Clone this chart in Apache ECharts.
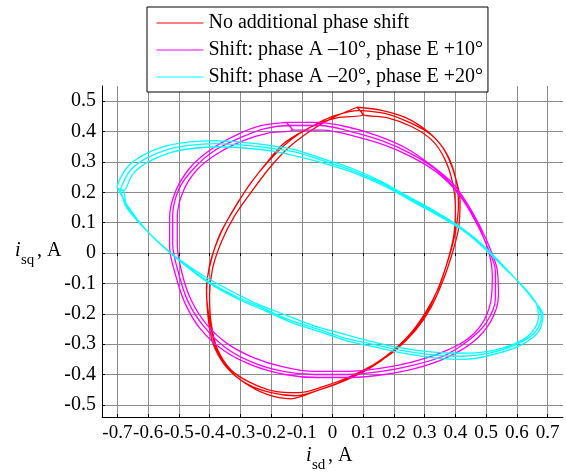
<!DOCTYPE html>
<html>
<head>
<meta charset="utf-8">
<script src="https://cdn.jsdelivr.net/npm/echarts@6/dist/echarts.min.js"></script>
<style>
  html, body { margin: 0; padding: 0; background: #fff; }
  #chart { width: 566px; height: 473px; }
</style>
</head>
<body>
<div id="chart"></div>
<script>
// legend names
const seriesNames = [
  'No additional phase shift',
  'Shift: phase A \u201310\u00b0, phase E +10\u00b0',
  'Shift: phase A \u201320\u00b0, phase E +20\u00b0'
]
const xTicks = [-0.7, -0.6, -0.5, -0.4, -0.3, -0.2, -0.1, 0, 0.1, 0.2, 0.3, 0.4, 0.5, 0.6, 0.7]
const yTicks = [-0.5, -0.4, -0.3, -0.2, -0.1, 0, 0.1, 0.2, 0.3, 0.4, 0.5]

// i_sd, i_sq pairs (several laps per trace)
const redLap1 = [[0.09,0.47],[0.17,0.46],[0.25,0.43],[0.32,0.39],[0.37,0.33],[0.40,0.25],[0.41,0.16],[0.40,0.07],[0.38,-0.01],[0.35,-0.10],[0.31,-0.19],[0.26,-0.26],[0.19,-0.33],[0.12,-0.38],[0.04,-0.42],[-0.04,-0.45],[-0.12,-0.47],[-0.20,-0.46],[-0.28,-0.43],[-0.34,-0.38],[-0.38,-0.31],[-0.40,-0.22],[-0.41,-0.13],[-0.40,-0.04],[-0.37,0.05],[-0.33,0.13],[-0.28,0.21],[-0.22,0.29],[-0.16,0.36],[-0.08,0.41],[0.00,0.45],[0.09,0.47]]
const redLap2 = [[0.10,0.455],[0.18,0.445],[0.26,0.415],[0.325,0.37],[0.365,0.31],[0.39,0.235],[0.40,0.15],[0.395,0.06],[0.375,-0.025],[0.345,-0.115],[0.30,-0.20],[0.245,-0.275],[0.18,-0.335],[0.105,-0.385],[0.025,-0.425],[-0.055,-0.455],[-0.135,-0.48],[-0.215,-0.465],[-0.29,-0.425],[-0.35,-0.37],[-0.39,-0.295],[-0.405,-0.21],[-0.41,-0.115],[-0.395,-0.025],[-0.365,0.065],[-0.32,0.145],[-0.27,0.225],[-0.21,0.30],[-0.145,0.365],[-0.07,0.415],[0.015,0.445],[0.10,0.455]]
const redLap3 = [[0.08,0.48],[0.16,0.47],[0.24,0.445],[0.31,0.40],[0.36,0.345],[0.395,0.265],[0.415,0.17],[0.41,0.08],[0.39,0.0],[0.36,-0.09],[0.32,-0.18],[0.27,-0.255],[0.205,-0.32],[0.13,-0.37],[0.05,-0.41],[-0.03,-0.44],[-0.11,-0.46],[-0.19,-0.455],[-0.27,-0.425],[-0.33,-0.385],[-0.375,-0.315],[-0.395,-0.23],[-0.40,-0.14],[-0.39,-0.05],[-0.36,0.04],[-0.32,0.12],[-0.265,0.20],[-0.205,0.28],[-0.145,0.345],[-0.075,0.40],[0.0,0.445],[0.08,0.48]]

const magentaLap1 = [[-0.14,0.42],[-0.04,0.42],[0.06,0.40],[0.16,0.37],[0.25,0.33],[0.33,0.28],[0.40,0.21],[0.46,0.12],[0.50,0.03],[0.53,-0.06],[0.53,-0.15],[0.50,-0.23],[0.44,-0.29],[0.36,-0.34],[0.26,-0.37],[0.16,-0.39],[0.05,-0.40],[-0.06,-0.40],[-0.16,-0.39],[-0.26,-0.36],[-0.35,-0.31],[-0.42,-0.24],[-0.47,-0.16],[-0.50,-0.07],[-0.52,0.03],[-0.52,0.12],[-0.50,0.21],[-0.45,0.28],[-0.38,0.34],[-0.30,0.38],[-0.22,0.41],[-0.14,0.42]]
const magentaLap2 = [[-0.13,0.405],[-0.03,0.405],[0.07,0.385],[0.17,0.355],[0.26,0.315],[0.34,0.265],[0.41,0.195],[0.465,0.105],[0.505,0.015],[0.52,-0.075],[0.515,-0.16],[0.485,-0.235],[0.43,-0.29],[0.35,-0.33],[0.255,-0.36],[0.155,-0.38],[0.05,-0.39],[-0.06,-0.39],[-0.16,-0.375],[-0.255,-0.345],[-0.34,-0.30],[-0.41,-0.235],[-0.46,-0.155],[-0.49,-0.065],[-0.505,0.03],[-0.505,0.12],[-0.485,0.205],[-0.44,0.275],[-0.37,0.33],[-0.29,0.37],[-0.21,0.395],[-0.13,0.405]]
const magentaLap3 = [[-0.15,0.43],[-0.05,0.43],[0.05,0.415],[0.15,0.385],[0.24,0.345],[0.32,0.29],[0.395,0.225],[0.455,0.135],[0.50,0.045],[0.535,-0.05],[0.54,-0.14],[0.515,-0.225],[0.455,-0.295],[0.37,-0.345],[0.27,-0.38],[0.17,-0.40],[0.06,-0.41],[-0.05,-0.41],[-0.155,-0.40],[-0.26,-0.37],[-0.355,-0.32],[-0.43,-0.25],[-0.48,-0.165],[-0.51,-0.075],[-0.53,0.02],[-0.53,0.115],[-0.51,0.205],[-0.46,0.285],[-0.39,0.345],[-0.31,0.39],[-0.23,0.42],[-0.15,0.43]]

const cyanLap1 = [[-0.69,0.21],[-0.66,0.27],[-0.61,0.31],[-0.54,0.34],[-0.46,0.355],[-0.38,0.36],[-0.29,0.355],[-0.20,0.345],[-0.11,0.33],[-0.02,0.30],[0.07,0.27],[0.16,0.23],[0.25,0.18],[0.34,0.13],[0.42,0.08],[0.49,0.02],[0.55,-0.04],[0.61,-0.10],[0.66,-0.16],[0.68,-0.21],[0.66,-0.26],[0.60,-0.30],[0.51,-0.33],[0.42,-0.34],[0.32,-0.335],[0.22,-0.32],[0.13,-0.30],[0.04,-0.28],[-0.05,-0.25],[-0.14,-0.22],[-0.23,-0.18],[-0.32,-0.14],[-0.41,-0.09],[-0.49,-0.03],[-0.56,0.03],[-0.62,0.09],[-0.67,0.15],[-0.69,0.21]]
const cyanLap2 = [[-0.68,0.205],[-0.65,0.26],[-0.60,0.30],[-0.53,0.33],[-0.45,0.345],[-0.37,0.35],[-0.28,0.345],[-0.19,0.335],[-0.10,0.315],[-0.01,0.29],[0.08,0.26],[0.17,0.22],[0.26,0.17],[0.35,0.12],[0.43,0.07],[0.50,0.01],[0.56,-0.05],[0.62,-0.11],[0.665,-0.17],[0.67,-0.215],[0.645,-0.265],[0.59,-0.30],[0.50,-0.325],[0.41,-0.33],[0.31,-0.325],[0.21,-0.31],[0.12,-0.29],[0.03,-0.265],[-0.06,-0.24],[-0.15,-0.205],[-0.24,-0.17],[-0.33,-0.125],[-0.42,-0.075],[-0.50,-0.02],[-0.57,0.04],[-0.63,0.10],[-0.67,0.155],[-0.68,0.205]]
const cyanLap3 = [[-0.70,0.215],[-0.67,0.28],[-0.62,0.32],[-0.55,0.35],[-0.47,0.365],[-0.39,0.37],[-0.30,0.365],[-0.21,0.355],[-0.12,0.34],[-0.03,0.31],[0.06,0.28],[0.15,0.24],[0.24,0.19],[0.33,0.14],[0.41,0.09],[0.48,0.035],[0.545,-0.03],[0.60,-0.09],[0.65,-0.15],[0.685,-0.205],[0.67,-0.26],[0.61,-0.305],[0.52,-0.335],[0.43,-0.35],[0.33,-0.345],[0.23,-0.33],[0.14,-0.31],[0.05,-0.29],[-0.04,-0.26],[-0.13,-0.23],[-0.22,-0.19],[-0.31,-0.15],[-0.40,-0.10],[-0.48,-0.04],[-0.55,0.02],[-0.61,0.08],[-0.66,0.145],[-0.70,0.215]]

const colors = ['#ff0000', '#ff00ff', '#00ffff']
const laps = [
  [redLap1, redLap2, redLap3],
  [magentaLap1, magentaLap2, magentaLap3],
  [cyanLap1, cyanLap2, cyanLap3]
]

const font = 'Liberation Serif'

const chart = echarts.init(document.getElementById('chart'))

const option = {
  animation: false,
  backgroundColor: '#fff',
  grid: { left: 102, right: 3, top: 86, bottom: 56 },
  legend: {
    orient: 'vertical',
    left: 147,
    top: 7,
    padding: [6, 5, 5, 9],
    itemGap: 7,
    itemWidth: 47,
    itemHeight: 20,
    backgroundColor: '#fff',
    borderColor: '#000',
    borderWidth: 1,
    z: 10,
    itemStyle: { opacity: 0 },   // no marker, only the line
    lineStyle: { width: 1 },
    textStyle: { fontFamily: font, fontSize: 20, color: '#000', lineHeight: 20 },
    data: seriesNames
  },
  xAxis: [
    {
      type: 'value',
      min: -0.75,
      max: 0.75,
      axisLine: { show: true, onZero: false, lineStyle: { color: '#000', width: 1 } },
      axisTick: { show: true, inside: true, length: 3, customValues: xTicks, lineStyle: { color: '#000' } },
      axisLabel: {
        customValues: xTicks, margin: 7, color: '#000', fontFamily: font, fontSize: 19,
        width: 28, overflow: 'none',
        showMinLabel: true, showMaxLabel: true, hideOverlap: false
      },
      splitLine: { show: true, lineStyle: { color: '#8c8c8c', width: 1 } }
    },
    {
      type: 'value',
      position: 'top',
      min: -0.75,
      max: 0.75,
      axisLine: { show: false },
      axisTick: { show: true, inside: true, length: 3, customValues: xTicks, lineStyle: { color: '#000' } },
      axisLabel: { show: false },
      splitLine: { show: false }
    }
  ],
  yAxis: [
    {
      type: 'value',
      min: -0.54,
      max: 0.55,
      axisLine: { show: true, onZero: false, lineStyle: { color: '#000', width: 1 } },
      axisTick: { show: true, inside: true, length: 3, customValues: yTicks, lineStyle: { color: '#000' } },
      axisLabel: {
        customValues: yTicks, margin: 6, color: '#000', fontFamily: font, fontSize: 20,
        showMinLabel: true, showMaxLabel: true, hideOverlap: false
      },
      splitLine: { show: true, lineStyle: { color: '#8c8c8c', width: 1 } }
    }
  ],
  graphic: [
    // y axis title: i_sq, A
    { type: 'text', left: 15, top: 241, style: { text: 'i', fontFamily: font, fontSize: 20, fontStyle: 'italic', fill: '#000' } },
    { type: 'text', left: 21, top: 253, style: { text: 'sq', fontFamily: font, fontSize: 15, fill: '#000' } },
    { type: 'text', left: 37, top: 241, style: { text: ', A', fontFamily: font, fontSize: 20, fill: '#000' } },
    // x axis title: i_sd, A
    { type: 'text', left: 306, top: 446, style: { text: 'i', fontFamily: font, fontSize: 20, fontStyle: 'italic', fill: '#000' } },
    { type: 'text', left: 312, top: 458, style: { text: 'sd', fontFamily: font, fontSize: 15, fill: '#000' } },
    { type: 'text', left: 328, top: 446, style: { text: ', A', fontFamily: font, fontSize: 20, fill: '#000' } }
  ],
  series: seriesNames.map((name, i) => ({
    name: name,
    type: 'line',
    xAxisIndex: 0,
    yAxisIndex: 0,
    symbol: 'none',
    smooth: 0.3,
    lineStyle: { color: colors[i], width: 1.3 },
    itemStyle: { color: colors[i] },
    data: [].concat(...laps[i])
  }))
}

chart.setOption(option)
</script>
</body>
</html>
